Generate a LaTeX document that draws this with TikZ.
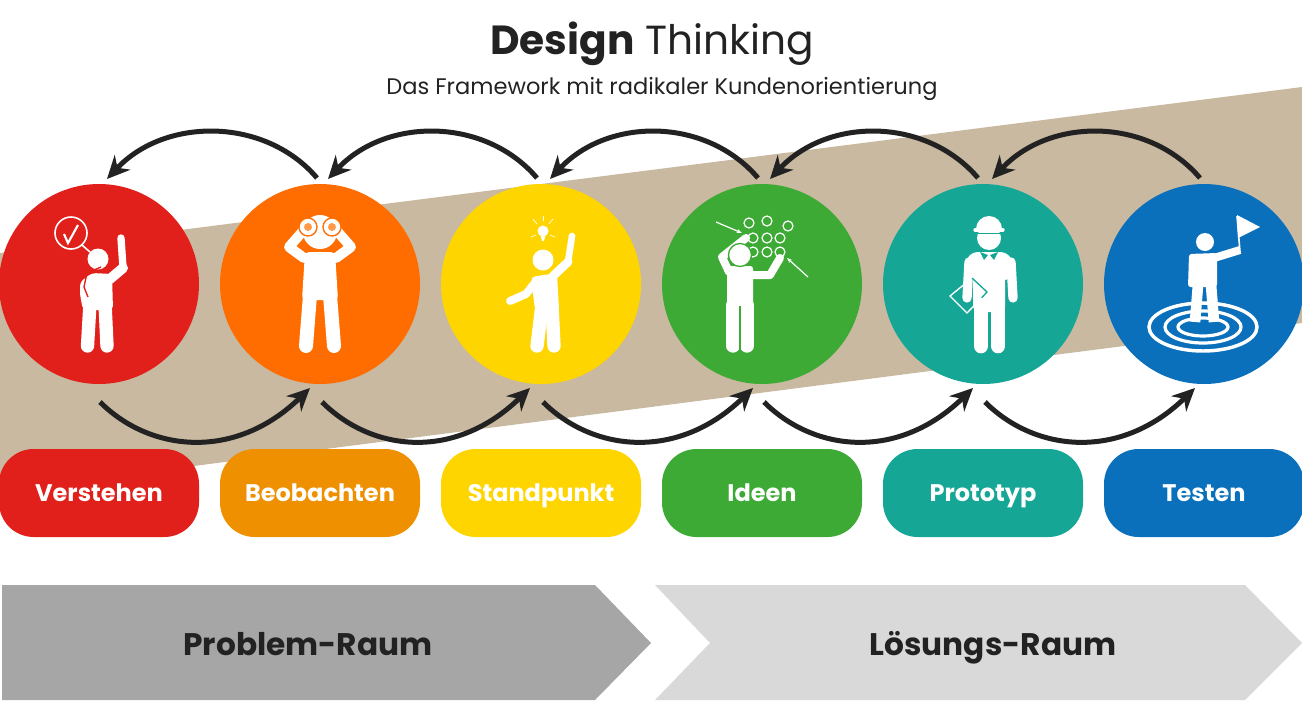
\documentclass[tikz,border=0pt]{standalone}
\usepackage{fontspec}
\setmainfont{Poppins}
\usepackage{xcolor}
\usetikzlibrary{positioning,arrows.meta}

\definecolor{bandfarbe}{HTML}{C8B9A0}
\definecolor{rot}{HTML}{E1201B}
\definecolor{orange}{HTML}{FF6D00}
\definecolor{orangepille}{HTML}{EF9000}
\definecolor{gelb}{HTML}{FFD500}
\definecolor{gruen}{HTML}{3DAA35}
\definecolor{petrol}{HTML}{16A696}
\definecolor{blau}{HTML}{0A70BB}
\definecolor{textdunkel}{HTML}{222222}

\begin{document}
\begin{tikzpicture}[
    x=0.75pt, y=-0.75pt,
    kreis/.style={
        circle, minimum size=150pt, inner sep=0pt, outer sep=0pt
    },
    pille/.style={
        rectangle, rounded corners=26pt,
        minimum width=150pt,
        minimum height=66pt,
        inner sep=0pt, outer sep=0pt,
        text=white,
        text height=17pt, text depth=4pt,
        font=\bfseries\fontsize{18}{20}\selectfont
    },
    raum/.style={
        text height=21pt, text depth=5pt,
        font=\bfseries\fontsize{23.4}{26}\selectfont, text=textdunkel
    },
    pfeil/.style={-{Stealth[length=17pt,width=16pt]}, line width=3.75pt, draw=textdunkel},
    bein/.style={draw=white, line width=10pt, line cap=round},
    arm/.style={draw=white, line width=7.5pt, line cap=round, line join=round},
    duenn/.style={draw=white, line width=0.9pt},
    node distance=48.75pt and 15.75pt
]
\useasboundingbox (0,0) rectangle (1302,700);

% --- HINTERGRUND: schraeges Band und die zwei Raeume ---
\fill[bandfarbe] (0,253) -- (1302,87) -- (1302,323) -- (0,491) -- cycle;
\fill[black!35] (2,585) -- (595,585) -- (651,643) -- (595,700) -- (2,700) -- cycle;
\fill[black!15] (655,585) -- (1245,585) -- (1302,643) -- (1245,700) -- (655,700) -- (710,643) -- cycle;

% --- TITEL ---
\node[font=\fontsize{30.5}{34}\selectfont, text=textdunkel] (titel) at (652,43.5) {\textbf{Design} Thinking};
\node[font=\fontsize{16.9}{20}\selectfont, text=textdunkel] (untertitel) at (662,89) {Das Framework mit radikaler Kundenorientierung};

% --- REIHE 1: die sechs Kreise ---
\node[kreis, fill=rot] (verstehen) at (99,284) {};
\node[kreis, fill=orange, right=of verstehen] (beobachten) {};
\node[kreis, fill=gelb, right=of beobachten] (standpunkt) {};
\node[kreis, fill=gruen, right=of standpunkt] (ideen) {};
\node[kreis, fill=petrol, right=of ideen] (prototyp) {};
\node[kreis, fill=blau, right=of prototyp] (testen) {};

% --- REIHE 2: die Pillen ---
\node[pille, fill=rot, below=of verstehen] (pverstehen) {Verstehen};
\node[pille, fill=orangepille, below=of beobachten] (pbeobachten) {Beobachten};
\node[pille, fill=gelb, below=of standpunkt] (pstandpunkt) {Standpunkt};
\node[pille, fill=gruen, below=of ideen] (pideen) {Ideen};
\node[pille, fill=petrol, below=of prototyp] (pprototyp) {Prototyp};
\node[pille, fill=blau, below=of testen] (ptesten) {Testen};

% --- REIHE 3: Raeume ---
\node[raum] (problem) at (308,645) {Problem-Raum};
\node[raum] (loesung) at (993,645) {Lösungs-Raum};

% --- PFEILE OBEN (zurueck) ---
\draw[pfeil] ([shift={(-3,-6)}]beobachten.north) .. controls +(-52,-61) and +(58,-62) .. ([shift={(8,-5)}]verstehen.north);
\draw[pfeil] ([shift={(-4,-6)}]standpunkt.north) .. controls +(-52,-61) and +(58,-62) .. ([shift={(8,-5)}]beobachten.north);
\draw[pfeil] ([shift={(-4,-6)}]ideen.north) .. controls +(-52,-61) and +(58,-62) .. ([shift={(9,-5)}]standpunkt.north);
\draw[pfeil] ([shift={(-5,-6)}]prototyp.north) .. controls +(-52,-61) and +(58,-62) .. ([shift={(8,-5)}]ideen.north);
\draw[pfeil] ([shift={(-4,-6)}]testen.north) .. controls +(-52,-61) and +(58,-62) .. ([shift={(9,-5)}]prototyp.north);

% --- PFEILE UNTEN (vorwaerts) ---
\draw[pfeil] ([shift={(1,18)}]verstehen.south) .. controls +(50,50) and +(-75,73) .. ([shift={(-10,4)}]beobachten.south);
\draw[pfeil] ([shift={(2,18)}]beobachten.south) .. controls +(50,50) and +(-75,73) .. ([shift={(-11,4)}]standpunkt.south);
\draw[pfeil] ([shift={(2,18)}]standpunkt.south) .. controls +(50,50) and +(-75,73) .. ([shift={(-9,4)}]ideen.south);
\draw[pfeil] ([shift={(2,18)}]ideen.south) .. controls +(50,50) and +(-75,73) .. ([shift={(-10,4)}]prototyp.south);
\draw[pfeil] ([shift={(2,18)}]prototyp.south) .. controls +(50,50) and +(-75,73) .. ([shift={(-9,4)}]testen.south);

% --- FIGUR 1: Verstehen ---
\draw[duenn, line width=1.2pt] (71,233) circle (16);
\draw[duenn, line width=1.6pt] (64,234) -- (68,243) -- (78,225);
\draw[duenn, line width=1.2pt] (82,245) -- (90,252);
\fill[white] (98,259) circle (10.5);
\fill[white, rounded corners=3pt] (80,282) -- (92,273) -- (112,274) -- (113,310) -- (83,310) -- (80,295) -- cycle;
\draw[arm] (110,279) -- (123,268);
\draw[arm, line width=5.5pt] (123,268) -- (121,238);
\draw[bein] (90,303) -- (87.5,346);
\draw[bein] (105,303) -- (107,346);
\draw[rot, line width=1pt] (101,267) -- (87,273) -- (84,287) -- (88,297);

% --- FIGUR 2: Beobachten ---
\fill[white] (320,232) circle (17);
\fill[white, rounded corners=3pt] (305,252) -- (335,252) -- (338,300) -- (302,300) -- cycle;
\draw[arm] (304,258) -- (289,247) -- (303,231);
\draw[arm] (336,258) -- (351,247) -- (337,231);
\draw[bein, line width=10.5pt] (310,295) -- (306,346);
\draw[bein, line width=10.5pt] (330,295) -- (334,346);
\draw[orange, line width=1pt, fill=white] (308,227) circle (9);
\draw[orange, line width=1pt, fill=white] (332,227) circle (9);
\fill[orange!70!white] (308,227) circle (4);
\fill[orange!70!white] (332,227) circle (4);

% --- FIGUR 3: Standpunkt ---
\fill[white] (543,231) circle (5.5);
\fill[white] (540,233) -- (546,233) -- (544,241) -- (542,241) -- cycle;
\draw[duenn, line width=0.5pt] (533,219) -- (537,224);
\draw[duenn, line width=0.5pt] (553,219) -- (549,224);
\draw[duenn, line width=0.5pt] (543,216) -- (543,221);
\draw[duenn, line width=0.5pt] (531,237) -- (536,235);
\draw[duenn, line width=0.5pt] (555,237) -- (550,235);
\fill[white] (543,260) circle (10.5);
\fill[white, rounded corners=3pt] (531,277) -- (557,273) -- (559,310) -- (535,310) -- cycle;
\draw[arm, line width=6.5pt] (553,276) -- (568,262);
\draw[arm, line width=5pt] (568,262) -- (572,236);
\draw[arm, line width=6pt] (534,284) -- (526,294) -- (510,301);
\draw[bein] (542,305) -- (537,346);
\draw[bein] (552,305) -- (554,346);

% --- FIGUR 4: Ideen ---
\draw[duenn] (749,223) circle (5);
\draw[duenn] (767,221) circle (5);
\draw[duenn] (788,226) circle (5);
\draw[duenn] (753,238) circle (5);
\draw[duenn] (767,238) circle (5);
\draw[duenn] (780,238) circle (5);
\draw[duenn] (753,252) circle (5);
\draw[duenn] (767,252) circle (5);
\draw[duenn] (780,252) circle (5);
\draw[duenn, -{Stealth[length=4pt,width=3pt]}] (716,222) -- (742,233);
\draw[duenn, -{Stealth[length=4pt,width=3pt]}] (808,277) -- (787,258);
\fill[white, rounded corners=2pt] (727,266) -- (753,266) -- (753,312) -- (727,312) -- cycle;
\draw[arm, line width=6pt] (729,272) -- (722,257) -- (746,238);
\draw[arm, line width=6pt] (752,275) -- (770,275) -- (780,258);
\draw[gruen, line width=1pt, fill=white] (740,255) circle (11.5);
\draw[bein] (733,305) -- (733,346);
\draw[bein] (747,305) -- (747,346);
\draw[gruen, line width=0.8pt] (740,306) -- (740,352);

% --- FIGUR 5: Prototyp ---
\draw[arm, line width=1pt, fill=petrol, line join=miter] (950,296) -- (972,278) -- (987,292) -- (967,313) -- cycle;
\fill[white, rounded corners=4pt] (973,252) -- (1005,252) -- (1005,312) -- (973,312) -- cycle;
\fill[white, rounded corners=8pt] (965,280) -- (967,252) -- (1011,252) -- (1015,280) -- cycle;
\draw[arm, line width=7pt] (969,262) -- (967,298);
\draw[arm, line width=7pt] (1011,262) -- (1013,298);
\draw[petrol, line width=1pt] (972,278) -- (987,292) -- (976,304);
\draw[bein, line width=11pt] (981,305) -- (981,346);
\draw[bein, line width=11pt] (998,305) -- (998,346);
\fill[petrol] (980,252) -- (988,255) -- (984,260) -- cycle;
\fill[petrol] (998,252) -- (990,255) -- (994,260) -- cycle;
\fill[white] (989,238) circle (12);
\fill[white] (976,229) arc[start angle=180, end angle=360, radius=13] -- cycle;
\draw[white, line width=2.5pt, line cap=round] (975,230) -- (1003,230);
\draw[petrol, line width=0.8pt] (977,233.5) -- (1001,233.5);

% --- FIGUR 6: Testen ---
\draw[white, line width=2.6pt] (1203,327) ellipse (54 and 24);
\draw[white, line width=2.4pt] (1203,327) ellipse (38 and 16);
\draw[white, line width=2.4pt] (1203,327) ellipse (25 and 9);
\fill[white] (1205,242) circle (9);
\fill[white, rounded corners=2pt] (1189,254) -- (1217,253) -- (1217,287) -- (1188,287) -- cycle;
\draw[arm, line width=6pt, line cap=butt] (1214,258) -- (1240,250);
\draw[duenn, line width=1.2pt] (1240,252) -- (1237,216);
\fill[white] (1237,215) -- (1260,227) -- (1238,238) -- cycle;
\draw[bein, line width=8pt, line cap=butt] (1198,285) -- (1195,322);
\draw[bein, line width=8pt, line cap=butt] (1211,285) -- (1214,322);
\end{tikzpicture}
\end{document}
